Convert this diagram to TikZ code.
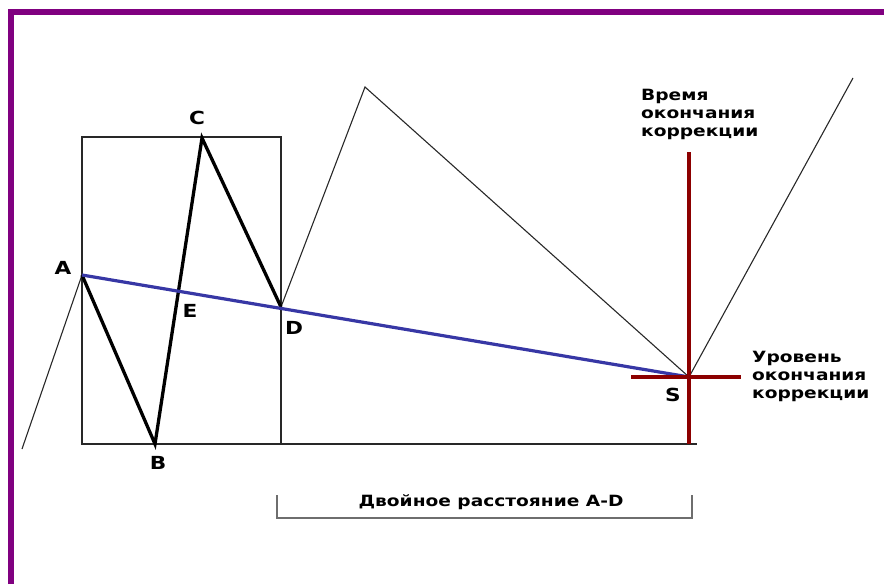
\documentclass[tikz,border=0pt]{standalone}
\usepackage{fontspec}
\setmainfont{DejaVu Sans}
\newfontfamily\widefont[FakeStretch=1.2]{DejaVu Sans}
\usetikzlibrary{positioning,calc}
\definecolor{frameviolet}{RGB}{128,0,128}
\definecolor{trendblue}{RGB}{55,55,165}
\definecolor{endred}{RGB}{140,0,0}
\definecolor{wavegray}{RGB}{40,40,40}
\definecolor{brkgray}{RGB}{110,110,110}
\tikzset{
  frm/.style={frameviolet, line width=6pt},
  thinwave/.style={wavegray, line width=1.1pt, line join=miter},
  bold/.style={black, line width=3.3pt, line join=miter},
  trend/.style={trendblue, line width=3.2pt},
  cross/.style={endred, line width=3.2pt},
  ptlbl/.style={font=\widefont\fontsize{18}{21}\selectfont\bfseries, inner sep=0pt},
  note/.style={font=\widefont\fontsize{15.5}{18}\selectfont\bfseries, align=left, inner sep=0pt},
  brk/.style={brkgray, line width=1.4pt},
}
\begin{document}
\begin{tikzpicture}[x=1pt, y=-1pt]
    \useasboundingbox (0,0) rectangle (884,584);
    % frame
    \draw[frm] (11,584) -- (11,12) -- (884,12);
    % wave points
    \coordinate (P0) at (22,449);
    \coordinate (A) at (82,275);
    \coordinate (B) at (155,444);
    \coordinate (C) at (202,138);
    \coordinate (D) at (281,307);
    \coordinate (T) at (365,87);
    \coordinate (S) at (689,377);
    \coordinate (Q) at (853,78);
    \coordinate (E) at (intersection of A--S and B--C);
    % box A-D
    \draw[thinwave] (82,137) rectangle (281,444);
    \draw[thinwave] (281,444) -- (697,444);
    \draw[thinwave] (P0) -- (A);
    \draw[thinwave] (D) -- (T) -- (S) -- (Q);
    \draw[bold] (A) -- (B) -- (C) -- (D);
    \draw[trend] (A) -- (S);
    % end of correction
    \draw[cross] (689,152) -- (689,444);
    \draw[cross] (631,377) -- (741,377);
    % labels
    \node[ptlbl] (lA) at (63,268) {A};
    \node[ptlbl] (lB) at (158,463) {B};
    \node[ptlbl] (lC) at (197,118) {C};
    \node[ptlbl] (lD) at (294,328) {D};
    \node[ptlbl] (lE) at (190,311) {E};
    \node[ptlbl] (lS) at (673,395) {S};
    \node[note, anchor=west] (tnote) at (641,114) {Время\\окончания\\коррекции};
    \node[note, anchor=west] (lnote) at (752,376) {Уровень\\окончания\\коррекции};
    % double distance
    \coordinate (bl) at (277,495);
    \coordinate (br) at (692,495);
    \draw[brk] (bl) -- ++(0,23) -| (br);
    \node[note] (dist) at (491,502) {Двойное расстояние A-D};
\end{tikzpicture}
\end{document}
